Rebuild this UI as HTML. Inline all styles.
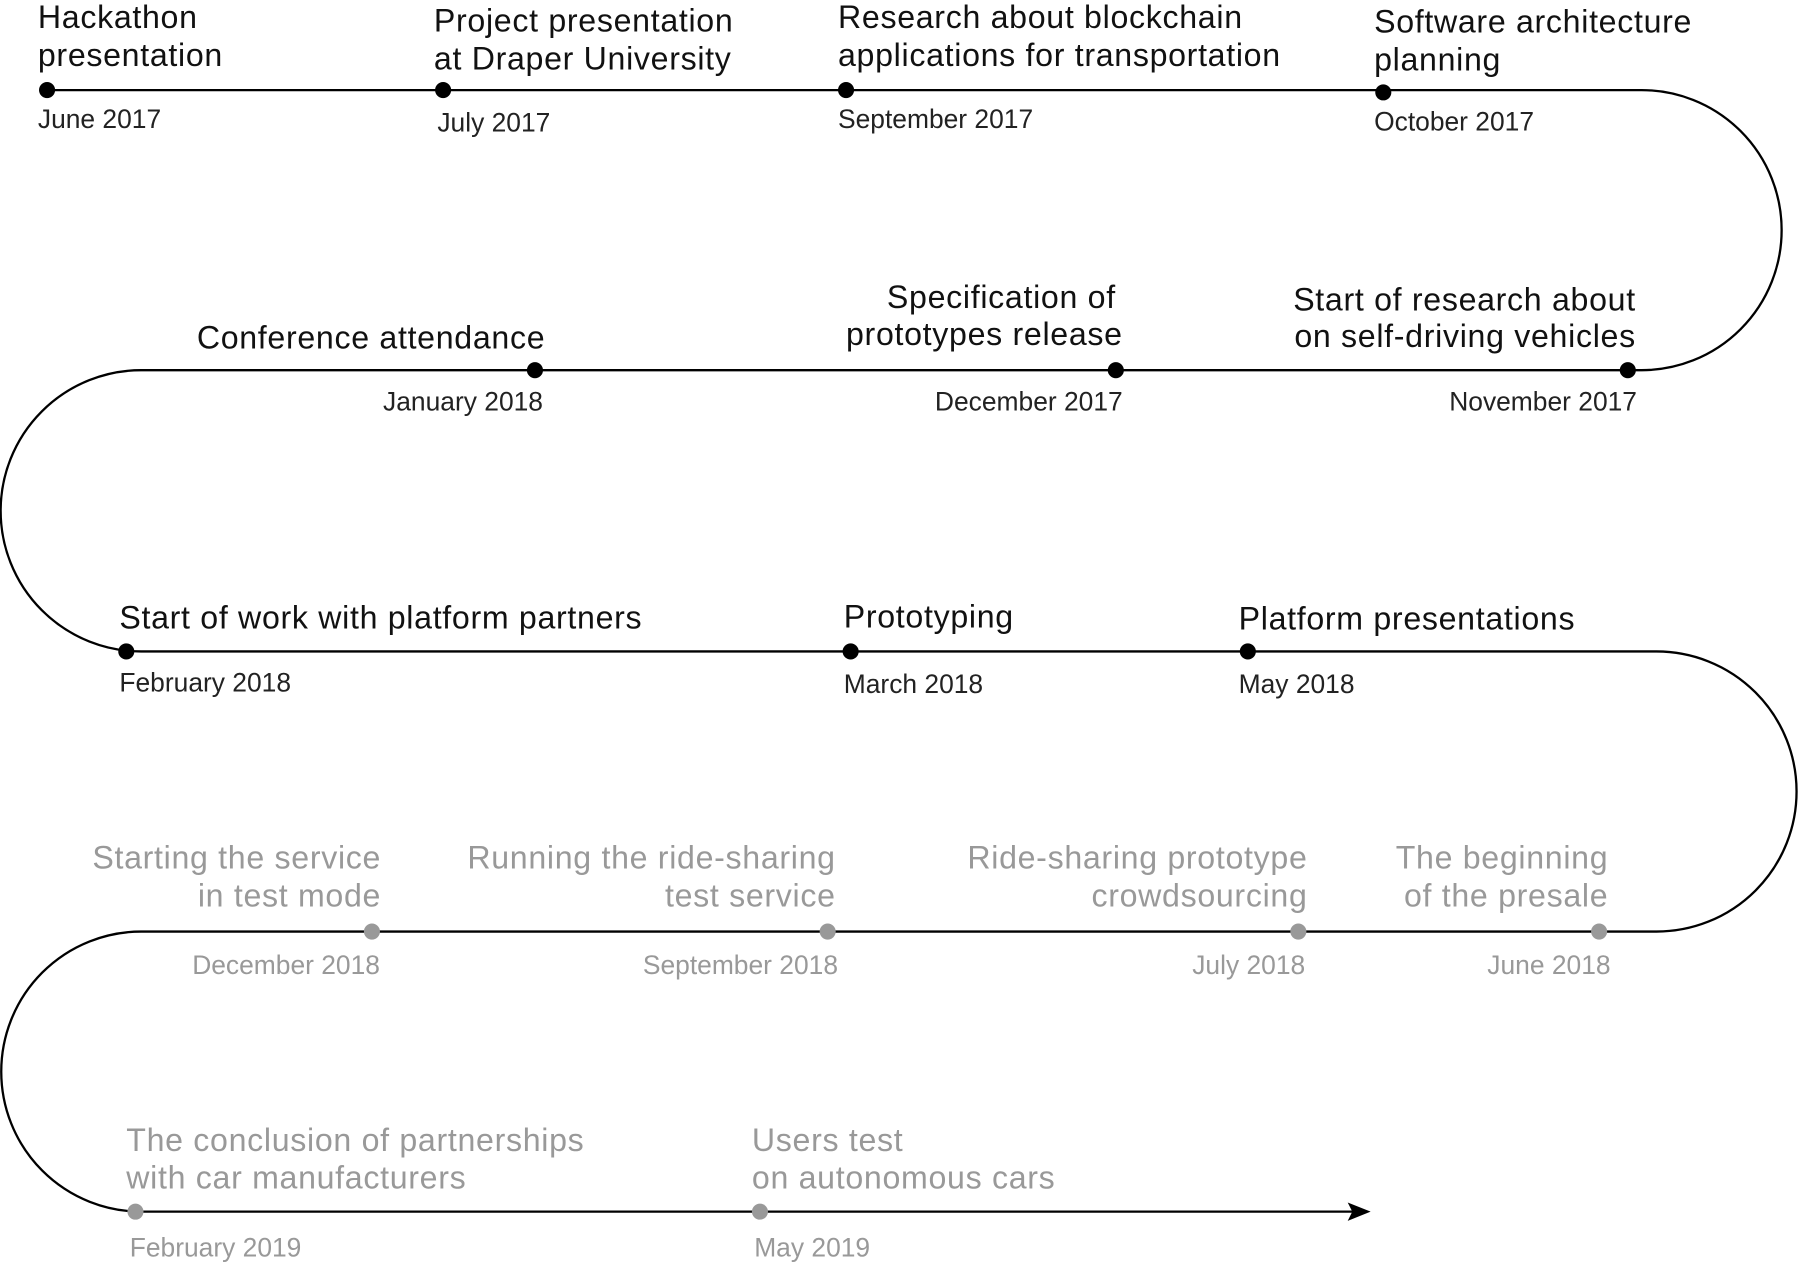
<!DOCTYPE html>
<html><head><meta charset="utf-8"><style>
html,body{margin:0;padding:0;background:#fff;}
svg{display:block;}
text{font-family:"Liberation Sans",sans-serif;}
.t{font-size:28px;fill:#111;letter-spacing:0.6px;}
.d{font-size:23px;fill:#222;}
.tg{font-size:28px;fill:#999;letter-spacing:0.6px;}
.dg{font-size:23px;fill:#999;}
.e{text-anchor:end;}
</style></head><body>
<svg width="1800" height="1265" viewBox="0 0 1568 1101" xmlns="http://www.w3.org/2000/svg">
<path d="M41,78 H1430 A122,122 0 0 1 1430,322 H123 A122.5,122.5 0 0 0 123,567 H1443 A122,122 0 0 1 1443,811 H123 A122,122 0 0 0 123,1055 H1185" fill="none" stroke="#000" stroke-width="2"/>
<polygon points="1194,1055 1174,1047 1178,1055 1174,1063" fill="#000"/>
<g fill="#000">
<circle cx="41" cy="78" r="7"/><circle cx="386" cy="78" r="7"/><circle cx="737" cy="78" r="7"/><circle cx="1205" cy="80" r="7"/>
<circle cx="466" cy="322" r="7"/><circle cx="972" cy="322" r="7"/><circle cx="1418" cy="322" r="7"/>
<circle cx="110" cy="567" r="7"/><circle cx="741" cy="567" r="7"/><circle cx="1087" cy="567" r="7"/>
</g>
<g fill="#999">
<circle cx="324" cy="811" r="7"/><circle cx="721" cy="811" r="7"/><circle cx="1131" cy="811" r="7"/><circle cx="1393" cy="811" r="7"/>
<circle cx="118" cy="1055" r="7"/><circle cx="662" cy="1055" r="7"/>
</g>
<text class="t" x="33" y="24">Hackathon</text><text class="t" x="33" y="57">presentation</text><text class="d" x="33" y="111">June 2017</text>
<text class="t" x="378" y="27">Project presentation</text><text class="t" x="378" y="60">at Draper University</text><text class="d" x="381" y="114">July 2017</text>
<text class="t" x="730" y="24">Research about blockchain</text><text class="t" x="730" y="57">applications for transportation</text><text class="d" x="730" y="111">September 2017</text>
<text class="t" x="1197" y="28">Software architecture</text><text class="t" x="1197" y="61">planning</text><text class="d" x="1197" y="113">October 2017</text>

<text class="t e" x="475" y="303">Conference attendance</text><text class="d e" x="473" y="357">January 2018</text>
<text class="t e" x="972" y="268">Specification of</text><text class="t e" x="978" y="300">prototypes release</text><text class="d e" x="978" y="357">December 2017</text>
<text class="t e" x="1425" y="270">Start of research about</text><text class="t e" x="1425" y="302">on self-driving vehicles</text><text class="d e" x="1426" y="357">November 2017</text>

<text class="t" x="104" y="547">Start of work with platform partners</text><text class="d" x="104" y="602">February 2018</text>
<text class="t" x="735" y="546">Prototyping</text><text class="d" x="735" y="603">March 2018</text>
<text class="t" x="1079" y="548">Platform presentations</text><text class="d" x="1079" y="603">May 2018</text>

<text class="tg e" x="332" y="756">Starting the service</text><text class="tg e" x="332" y="789">in test mode</text><text class="dg e" x="331" y="848">December 2018</text>
<text class="tg e" x="728" y="756">Running the ride-sharing</text><text class="tg e" x="728" y="789">test service</text><text class="dg e" x="730" y="848">September 2018</text>
<text class="tg e" x="1139" y="756">Ride-sharing prototype</text><text class="tg e" x="1139" y="789">crowdsourcing</text><text class="dg e" x="1137" y="848">July 2018</text>
<text class="tg e" x="1401" y="756">The beginning</text><text class="tg e" x="1401" y="789">of the presale</text><text class="dg e" x="1403" y="848">June 2018</text>

<text class="tg" x="110" y="1002">The conclusion of partnerships</text><text class="tg" x="110" y="1035">with car manufacturers</text><text class="dg" x="113" y="1094">February 2019</text>
<text class="tg" x="655" y="1002">Users test</text><text class="tg" x="655" y="1035">on autonomous cars</text><text class="dg" x="657" y="1094">May 2019</text>
</svg>
</body></html>
